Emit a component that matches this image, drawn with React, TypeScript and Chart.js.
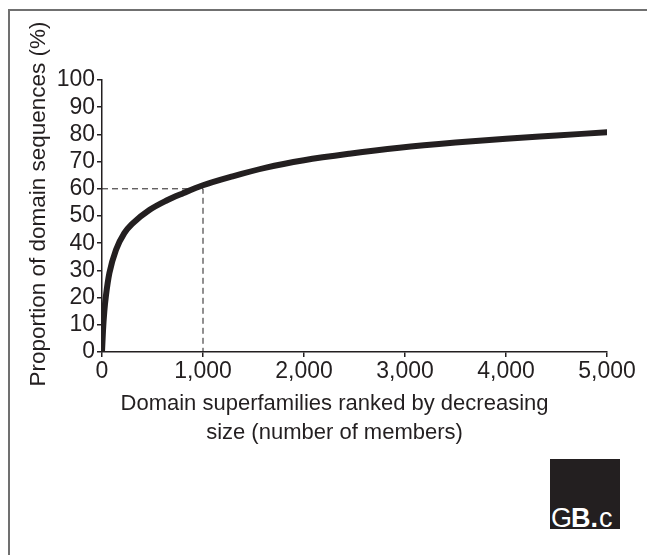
import React, { useEffect, useRef } from "react";
import { Chart, registerables } from "chart.js";

Chart.register(...registerables);

// Cumulative coverage curve (rank of superfamily vs. proportion of domain sequences)
const ranks = [0, 10, 23, 40, 73, 139, 221, 304, 469, 634, 799, 1000, 1294, 1624, 2000, 2449, 2944, 3500, 4000, 4500, 5000];
const proportions = [0, 8, 15, 21, 29, 37.6, 43.7, 47.3, 52.2, 55.6, 58.3, 61.3, 64.6, 67.8, 70.5, 72.9, 75.1, 77, 78.4, 79.6, 80.8];

// Dashed reference guide: 1,000 superfamilies cover 60%
const guideRanks = [0, 1000, 1000];
const guideProportions = [60, 60, 0];

const xTicks = [0, 1000, 2000, 3000, 4000, 5000];
const yTicks = [0, 10, 20, 30, 40, 50, 60, 70, 80, 90, 100];

const xTitleLines = ["Domain superfamilies ranked by decreasing", "size (number of members)"];
const yTitle = "Proportion of domain sequences (%)";

const INK = "#231f20";
const FONT = '"Liberation Sans", Arial, Helvetica, sans-serif';

const titlePlugin = {
  id: "customTitles",
  afterDraw(chart: any) {
    const { ctx, chartArea } = chart;
    ctx.save();
    ctx.fillStyle = INK;
    ctx.font = `22px ${FONT}`;
    ctx.textAlign = "center";
    ctx.textBaseline = "alphabetic";
    const cx = (chartArea.left + chartArea.right) / 2 - 20;
    ctx.fillText(xTitleLines[0], cx, chartArea.bottom + 58);
    ctx.fillText(xTitleLines[1], cx, chartArea.bottom + 87);
    ctx.translate(chartArea.left - 57, (chartArea.top + chartArea.bottom) / 2 - 12);
    ctx.rotate(-Math.PI / 2);
    ctx.font = `22.5px ${FONT}`;
    ctx.fillText(yTitle, 0, 0);
    ctx.restore();
  },
};

export default function App() {
  const canvasRef = useRef<HTMLCanvasElement | null>(null);

  useEffect(() => {
    const canvas = canvasRef.current;
    if (!canvas) return;
    const chart = new Chart(canvas, {
      type: "line",
      data: {
        datasets: [
          {
            data: ranks.map((r, i) => ({ x: r, y: proportions[i] })),
            borderColor: INK,
            borderWidth: 6,
            pointRadius: 0,
            cubicInterpolationMode: "monotone",
            borderCapStyle: "round",
            borderJoinStyle: "round",
            fill: false,
          },
          {
            data: guideRanks.map((r, i) => ({ x: r, y: guideProportions[i] })),
            borderColor: INK,
            borderWidth: 1,
            borderDash: [6, 4],
            pointRadius: 0,
            tension: 0,
            fill: false,
          },
        ],
      },
      options: {
        responsive: false,
        animation: false,
        devicePixelRatio: 1,
        layout: { padding: { top: 80, right: 40, bottom: 0, left: 0 } },
        plugins: { legend: { display: false }, tooltip: { enabled: false } },
        scales: {
          x: {
            type: "linear",
            min: 0,
            max: 5000,
            afterBuildTicks: (scale: any) => {
              scale.ticks = xTicks.map((v) => ({ value: v }));
            },
            afterFit: (scale: any) => {
              scale.height = 203;
            },
            ticks: {
              color: INK,
              font: { family: FONT, size: 23 },
              padding: 1,
              maxRotation: 0,
              autoSkip: false,
              callback: (v: any) => Number(v).toLocaleString("en-US"),
            },
            grid: { drawOnChartArea: false, drawTicks: true, tickLength: 5, color: INK, lineWidth: 1.5 },
            border: { color: INK, width: 1.5 },
          },
          y: {
            type: "linear",
            min: 0,
            max: 100,
            afterBuildTicks: (scale: any) => {
              scale.ticks = yTicks.map((v) => ({ value: v }));
            },
            afterFit: (scale: any) => {
              scale.width = 102;
            },
            ticks: {
              color: INK,
              font: { family: FONT, size: 23 },
              padding: 2,
              autoSkip: false,
            },
            grid: { drawOnChartArea: false, drawTicks: true, tickLength: 5, color: INK, lineWidth: 1.5 },
            border: { color: INK, width: 1.5 },
          },
        },
      },
      plugins: [titlePlugin],
    } as any);
    return () => chart.destroy();
  }, []);

  return (
    <div style={{ position: "absolute", left: 0, top: 0, width: 647, height: 555, overflow: "hidden", background: "#fff" }}>
      <div
        style={{
          position: "absolute",
          left: 8,
          top: 9,
          width: 700,
          height: 600,
          border: "2px solid #707070",
          boxSizing: "border-box",
        }}
      />
      <canvas ref={canvasRef} width={647} height={555} style={{ position: "absolute", left: 0, top: 0, width: 647, height: 555, display: "block" }} />
      <div
        style={{
          position: "absolute",
          left: 550,
          top: 459,
          width: 70,
          height: 70,
          background: INK,
          overflow: "hidden",
        }}
      >
        <div
          style={{
            position: "absolute",
            left: 1,
            bottom: -3,
            color: "#fff",
            fontFamily: FONT,
            fontSize: 27,
            lineHeight: 1,
            whiteSpace: "nowrap",
            letterSpacing: -1,
          }}
        >
          <span style={{ fontWeight: 400 }}>G</span>
          <span style={{ fontWeight: 700 }}>B</span>
          <span style={{ fontWeight: 700, margin: "0 2px 0 1px" }}>.</span>
          <span style={{ fontWeight: 400 }}>c</span>
        </div>
      </div>
    </div>
  );
}
